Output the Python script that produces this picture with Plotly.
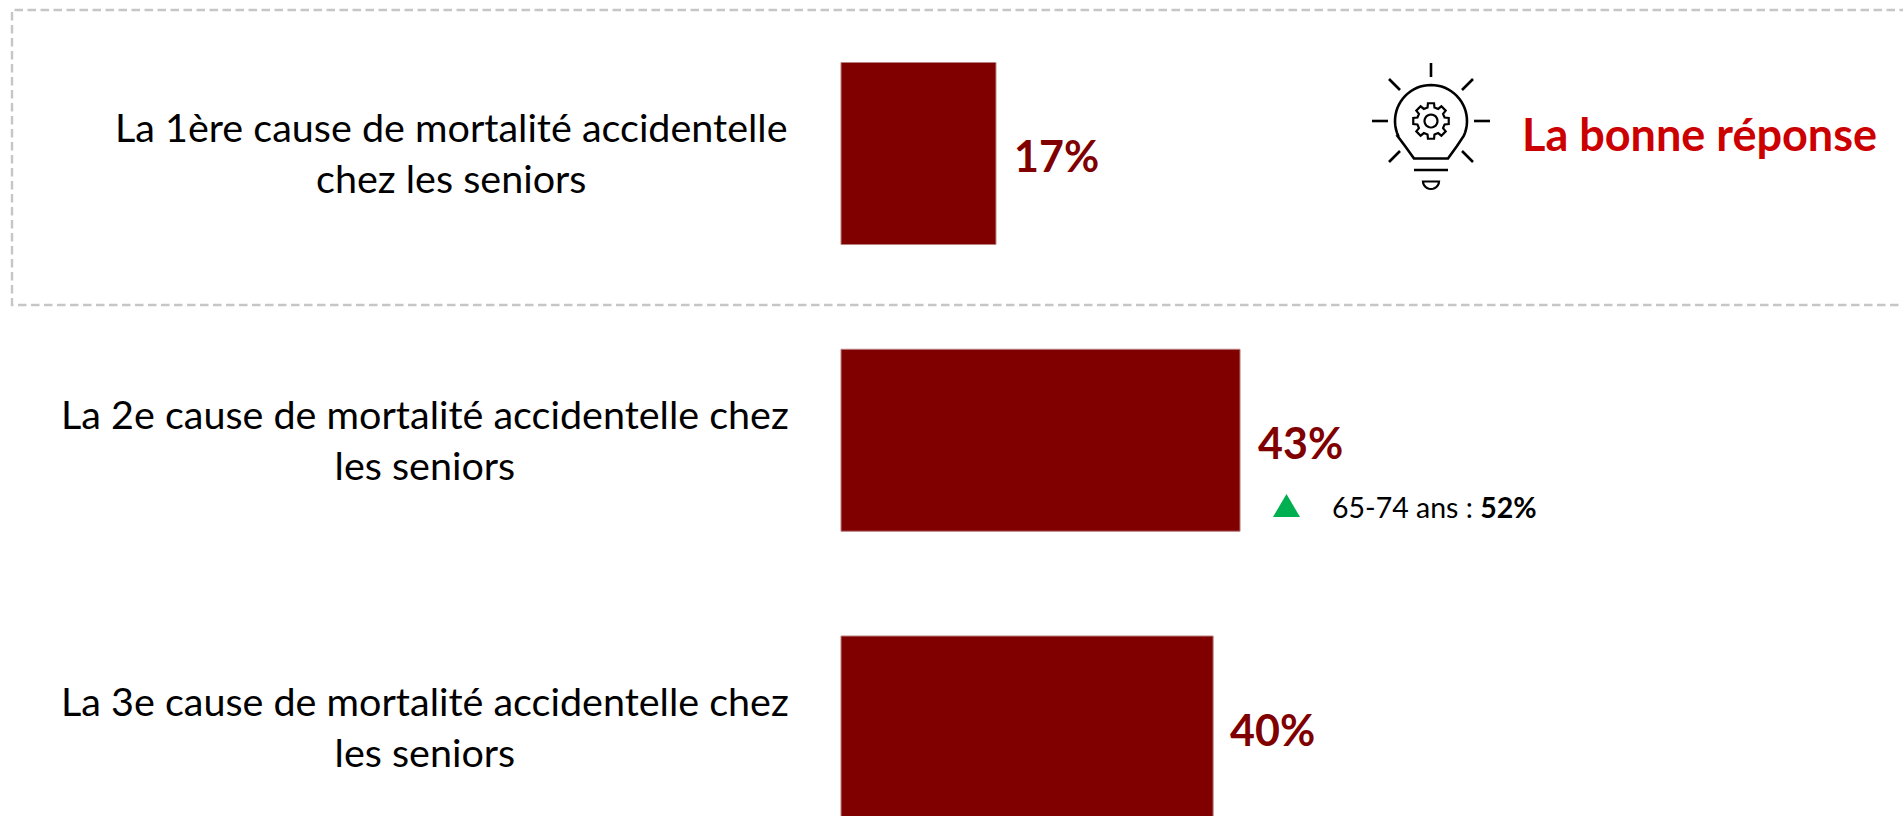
import math
import plotly.graph_objects as go

# ---- data ----
categories = [
    "La 1ère cause de mortalité accidentelle<br>chez les seniors",
    "La 2e cause de mortalité accidentelle chez<br>les seniors",
    "La 3e cause de mortalité accidentelle chez<br>les seniors",
]
bar_values = [16.7, 43.0, 40.1]
value_labels = ["17%", "43%", "40%"]
sub_label = "65-74 ans : <b>52%</b>"
answer_label = "La bonne réponse"

# ---- layout constants ----
W, H = 1903, 816
FONT = "Lato"
DARK_RED = "#800000"
PX_PER_UNIT = 9.28
BAR_LEFT = 841
ROW_TOP = 153.5
ROW_STEP = 286.75
BAR_H = 182

def X(p):
    return p / W

def Y(p):
    return 1 - p / H

def pth(points, close=False):
    s = "M " + " L ".join(f"{X(a):.5f},{Y(b):.5f}" for a, b in points)
    return s + (" Z" if close else "")

fig = go.Figure()
fig.add_trace(go.Bar(
    x=bar_values, y=categories, orientation="h", width=BAR_H / ROW_STEP,
    marker=dict(color=DARK_RED, line=dict(color="#b98080", width=1)),
    hoverinfo="skip", showlegend=False,
))

shapes = []
# dashed frame
shapes.append(dict(type="path", xref="paper", yref="paper",
                   path=pth([(W + 5, 10), (12, 10), (12, 305), (W + 5, 305)]),
                   line=dict(color="#c6c6c6", width=2.4, dash="8.5px,4.5px")))

# light-bulb icon
def line(points, close=False, width=2.6):
    shapes.append(dict(type="path", xref="paper", yref="paper", path=pth(points, close),
                       line=dict(color="#000000", width=width)))

cx, cy = 1431, 121
for seg in [[(cx, 63), (cx, 77)], [(1372, cy), (1388, cy)], [(1474, cy), (1490, cy)],
            [(1389, 79), (1400, 90)], [(1473, 79), (1462, 90)],
            [(1389, 162), (1400, 151)], [(1473, 162), (1462, 151)],
            [(1414, 170), (1448, 170)]]:
    line(seg)

# bulb outline
r = 36
outline = [(1414, 158.5), (1405, 146), (1397.5, 136)]
a0 = math.atan2(136 - cy, 1397.5 - cx)
a1 = math.atan2(136 - cy, 1464.5 - cx)
steps = 40
sweep = (a1 - a0) % (2 * math.pi)
for i in range(steps + 1):
    a = a0 + sweep * i / steps
    outline.append((cx + r * math.cos(a), cy + r * math.sin(a)))
outline += [(1457, 146), (1448, 158.5)]
line(outline, close=True)

# gear
gear = []
teeth = 8
for i in range(teeth):
    base = 2 * math.pi * i / teeth - math.pi / 2
    for off, rad in [(-0.17, 18), (0.17, 18), (0.25, 14), (0.535, 14)]:
        gear.append((cx + rad * math.cos(base + off), cy + rad * math.sin(base + off)))
line(gear, close=True, width=2.2)
line([(cx + 6.5 * math.cos(t * math.pi / 12), cy + 6.5 * math.sin(t * math.pi / 12)) for t in range(24)],
     close=True, width=2.2)

# bulb cap
cap = [(1423, 181.5), (1439, 181.5)]
for i in range(1, 12):
    a = math.pi * i / 12
    cap.append((1431 + 8 * math.cos(a), 181.5 + 7.5 * math.sin(a)))
line(cap, close=True, width=2.2)

# green triangle
shapes.append(dict(type="path", xref="paper", yref="paper",
                   path=pth([(1273, 517), (1286.5, 494), (1300, 517)], True),
                   fillcolor="#00B050", line=dict(width=0)))

annotations = []
label_centers = [451, 425, 425]
for c, lx in zip(categories, label_centers):
    annotations.append(dict(x=X(lx), xref="paper", y=c, yref="y", text=c, showarrow=False,
                            xanchor="center", yanchor="middle", align="center", yshift=1.5,
                            font=dict(family=FONT, size=39.5, color="#000000")))
for v, t, c, s in zip(bar_values, value_labels, categories, [16, 16, 15]):
    annotations.append(dict(x=v, xref="x", y=c, yref="y", text=f"<b>{t}</b>", showarrow=False,
                            xanchor="left", yanchor="middle", xshift=s, yshift=-2,
                            font=dict(family=FONT, size=43, color=DARK_RED)))
annotations.append(dict(x=X(1330), xref="paper", y=Y(507), yref="paper", text=sub_label, showarrow=False,
                        xanchor="left", yanchor="middle",
                        font=dict(family=FONT, size=28.5, color="#000000")))
annotations.append(dict(x=X(1520), xref="paper", y=Y(134), yref="paper", text=f"<b>{answer_label}</b>",
                        showarrow=False, xanchor="left", yanchor="middle",
                        font=dict(family=FONT, size=45, color="#CC0000")))

fig.update_layout(
    width=W, height=H, margin=dict(l=0, r=0, t=0, b=0),
    paper_bgcolor="white", plot_bgcolor="white",
    xaxis=dict(range=[-BAR_LEFT / PX_PER_UNIT, (W - BAR_LEFT) / PX_PER_UNIT], visible=False),
    yaxis=dict(type="category", categoryarray=categories, categoryorder="array",
               range=[(H - ROW_TOP) / ROW_STEP, -ROW_TOP / ROW_STEP], visible=False),
    shapes=shapes, annotations=annotations,
)
fig.write_html("out.html", config=dict(displayModeBar=False),
               post_script="document.body.style.margin='0';")
